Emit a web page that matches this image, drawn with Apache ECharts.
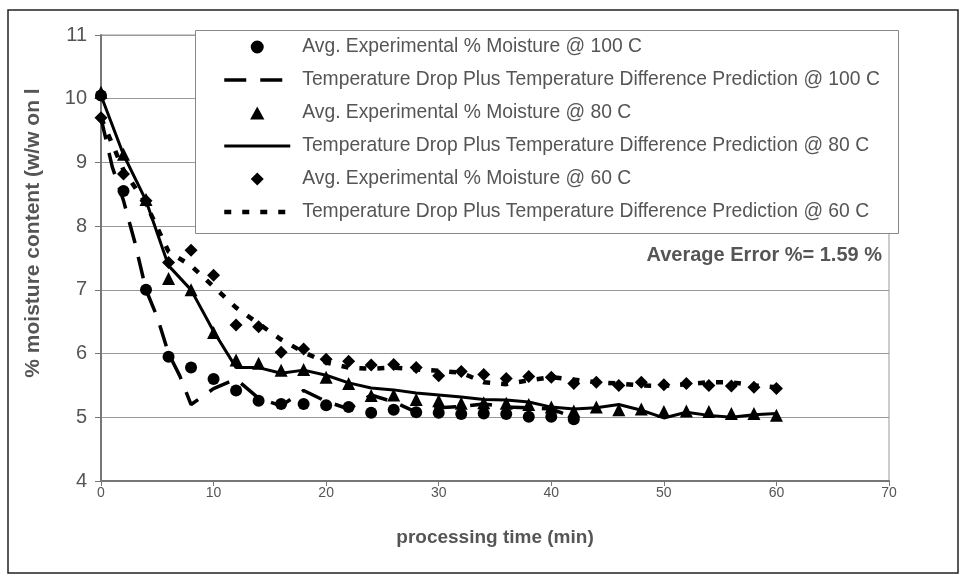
<!DOCTYPE html>
<html><head><meta charset="utf-8">
<script src="https://cdn.jsdelivr.net/npm/echarts@6/dist/echarts.min.js"></script>
<style>html,body{margin:0;padding:0;background:#fff}#c{width:964px;height:579px}</style>
</head><body><div id="c"></div>
<script>
// ---- data ----
const xTicks = [0, 10, 20, 30, 40, 50, 60, 70];
const yTicks = [4, 5, 6, 7, 8, 9, 10, 11];

const timeExp100 = [0,2,4,6,8,10,12,14,16,18,20,22,24,26,28,30,32,34,36,38,40,42];
const exp100 = [10.05,8.55,7.0,5.95,5.78,5.6,5.42,5.26,5.21,5.21,5.19,5.16,5.07,5.12,5.08,5.07,5.05,5.06,5.05,5.01,5.01,4.97];

const timePred100 = [0,1,2,3,4,5,6,7,8,10,12,14,16,18,20,22,24,26,28,30,32,34,36,38,40,42];
const pred100 = [9.7,8.93,8.4,7.75,7.0,6.57,6.0,5.65,5.2,5.45,5.6,5.3,5.18,5.42,5.25,5.13,5.35,5.24,5.08,5.15,5.17,5.21,5.16,5.15,5.13,5.0];

const time60 = [0,2,4,6,8,10,12,14,16,18,20,22,24,26,28,30,32,34,36,38,40,42,44,46,48,50,52,54,56,58,60];
const exp80 = [10.1,9.13,8.42,7.18,7.0,6.33,5.9,5.85,5.74,5.75,5.63,5.53,5.34,5.35,5.28,5.26,5.22,5.23,5.22,5.2,5.16,5.1,5.16,5.12,5.13,5.09,5.1,5.09,5.06,5.06,5.03];
const pred80 = [10.05,9.12,8.4,7.38,7.0,6.35,5.78,5.78,5.69,5.74,5.66,5.54,5.46,5.43,5.38,5.35,5.32,5.28,5.27,5.24,5.16,5.13,5.15,5.2,5.11,4.99,5.08,5.03,5.0,5.04,5.06];
const exp60 = [9.7,8.82,8.4,7.43,7.62,7.23,6.45,6.42,6.02,6.07,5.91,5.88,5.82,5.83,5.78,5.65,5.72,5.67,5.61,5.64,5.63,5.53,5.55,5.5,5.55,5.51,5.53,5.5,5.49,5.47,5.45];
const pred60 = [9.7,8.88,8.35,7.6,7.38,7.05,6.72,6.47,6.22,6.02,5.86,5.78,5.76,5.78,5.75,5.73,5.7,5.55,5.52,5.58,5.63,5.59,5.55,5.53,5.5,5.49,5.52,5.55,5.55,5.5,5.47];

const names = [
  'Avg. Experimental % Moisture @ 100 C',
  'Temperature Drop Plus Temperature Difference Prediction @ 100 C',
  'Avg. Experimental % Moisture @ 80 C',
  'Temperature Drop Plus Temperature Difference Prediction @ 80 C',
  'Avg. Experimental % Moisture @ 60 C',
  'Temperature Drop Plus Temperature Difference Prediction @ 60 C'
];
const xTitle = 'processing time (min)';
const yTitle = '% moisture content (w/w on l';
const noteText = 'Average Error %= 1.59 %';

// ---- chart ----
const pairs = (ts, vs) => ts.map((t, i) => [t, vs[i]]);
const FONT = "'Liberation Sans', Arial, sans-serif";
const GRAY = '#555';
const TRI = 'path://M0,10L5.5,0L11,10Z';
const DIA = 'path://M5,0L10,5L5,10L0,5Z';
const CIR = 'path://M5,0A5,5,0,1,1,4.99,0Z';
const DASH100 = [22, 14];
const DOT60 = [7, 11];

const chart = echarts.init(document.getElementById('c'), null, {renderer: 'canvas'});
const scatter = (name, data, symbol, size) => ({
  name, type: 'scatter', data, symbol, symbolSize: size, z: 4,
  itemStyle: {color: '#000', opacity: 1}, silent: true
});
const line = (name, data, width, dash) => ({
  name, type: 'line', data, symbol: 'none', showSymbol: false, z: 3,
  lineStyle: {color: '#000', width, type: dash, cap: 'butt'},
  itemStyle: {color: '#000'}, silent: true
});
const hiddenMarker = {color: 'rgba(0,0,0,0)', borderWidth: 0, borderColor: 'rgba(0,0,0,0)'};

chart.setOption({
  animation: false,
  backgroundColor: '#fff',
  grid: {left: 101, right: 75, top: 35, bottom: 98, show: true,
         borderColor: '#999', borderWidth: 1, backgroundColor: 'transparent'},
  xAxis: {
    type: 'value', min: xTicks[0], max: xTicks[xTicks.length - 1], interval: 10,
    name: xTitle, nameLocation: 'middle', nameGap: 47,
    nameTextStyle: {fontFamily: FONT, fontSize: 19, fontWeight: 'bold', color: GRAY},
    axisLine: {show: true, onZero: false, lineStyle: {color: '#777', width: 2}},
    axisTick: {show: true, inside: false, length: 5, lineStyle: {color: '#777', width: 1}},
    axisLabel: {fontFamily: FONT, fontSize: 14, color: GRAY, margin: 5},
    splitLine: {show: false}
  },
  yAxis: {
    type: 'value', min: yTicks[0], max: yTicks[yTicks.length - 1], interval: 1,
    axisLine: {show: true, onZero: false, lineStyle: {color: '#777', width: 2}},
    axisTick: {show: true, inside: false, length: 6, lineStyle: {color: '#777', width: 1}},
    axisLabel: {fontFamily: FONT, fontSize: 20, color: GRAY, margin: 14},
    splitLine: {show: true, lineStyle: {color: '#999', width: 1}}
  },
  legend: {
    orient: 'vertical', left: 222, top: 37, padding: 0, z: 60,
    itemWidth: 66, itemHeight: 13, itemGap: 13, symbolKeepAspect: true,
    data: [
      {name: names[0], icon: CIR, itemStyle: {color: '#000'}},
      {name: names[1], itemStyle: hiddenMarker, lineStyle: {width: 3.5, type: DASH100, color: '#000'}},
      {name: names[2], icon: TRI, itemStyle: {color: '#000'}},
      {name: names[3], itemStyle: hiddenMarker, lineStyle: {width: 3, type: 'solid', color: '#000'}},
      {name: names[4], icon: DIA, itemStyle: {color: '#000'}},
      {name: names[5], itemStyle: hiddenMarker, lineStyle: {width: 4.5, type: DOT60, color: '#000'}}
    ],
    textStyle: {fontFamily: FONT, fontSize: 19.3, color: GRAY, lineHeight: 20, padding: [0, 0, 0, 7]},
    selectedMode: false
  },
  graphic: [
    {type: 'rect', z: 0, shape: {x: 8, y: 10, width: 950, height: 563},
     style: {fill: 'none', stroke: '#222', lineWidth: 1.5}},
    {type: 'rect', z: 50, shape: {x: 195.5, y: 30.5, width: 703, height: 203},
     style: {fill: '#fff', stroke: '#888', lineWidth: 1}},
    {type: 'text', z: 50, x: 882, y: 255,
     style: {text: noteText, font: 'bold 20px ' + FONT, fill: GRAY, textAlign: 'right', textVerticalAlign: 'middle'}},
    {type: 'text', z: 50, x: 33, y: 233, rotation: Math.PI / 2,
     style: {text: yTitle, font: 'bold 21px ' + FONT, fill: GRAY, textAlign: 'center', textVerticalAlign: 'middle'}}
  ],
  series: [
    scatter(names[0], pairs(timeExp100, exp100), 'circle', 12),
    line(names[1], pairs(timePred100, pred100), 3.5, DASH100),
    scatter(names[2], pairs(time60, exp80), 'triangle', 13),
    line(names[3], pairs(time60, pred80), 3, 'solid'),
    scatter(names[4], pairs(time60, exp60), 'diamond', 13),
    line(names[5], pairs(time60, pred60), 4.5, DOT60)
  ]
});
</script>
</body></html>
